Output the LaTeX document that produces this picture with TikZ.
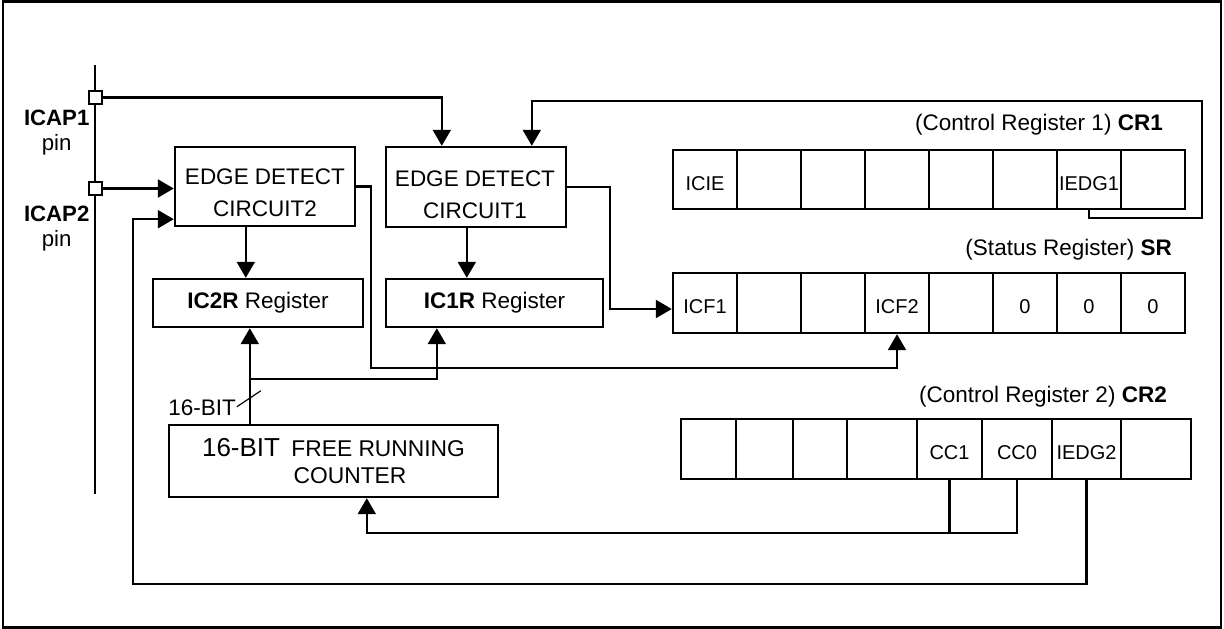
\documentclass[tikz,border=0pt]{standalone}
\usepackage{fontspec}
\setmainfont{Liberation Sans}
\usetikzlibrary{arrows.meta,calc}

\begin{document}
\begin{tikzpicture}[
        x=1pt,
        y=-1pt,
        wire/.style={line width=2.2pt},
        sig/.style={wire, -{Triangle[length=16pt,width=18pt]}},
        blk/.style={draw, line width=2.4pt, inner sep=2pt, align=center},
        cell/.style={draw, line width=2.4pt, minimum width=64, minimum height=60, inner sep=0pt,
            text height=21.8pt, text depth=0pt, font=\fontsize{20}{22}\selectfont},
        pinbox/.style={draw, line width=2pt, fill=white, minimum size=13, inner sep=0pt},
        title/.style={anchor=base east, inner sep=0pt},
        font=\fontsize{22.5}{31.7}\selectfont
    ]
        \useasboundingbox (0,0) rectangle (1224,629);
        \draw[line width=2.2pt] (3,1.5) rectangle (1221,627.5);

        % input pins
        \coordinate (pintop) at (95,65);
        \coordinate (pinbot) at (95,494);
        \draw[wire] (pintop) -- (pinbot);
        \node[pinbox] (pin1) at (95,97.5) {};
        \node[pinbox] (pin2) at (95,188.5) {};
        \node[align=center, font=\fontsize{22.2}{25}\selectfont, inner sep=0pt, anchor=north] (lab1) at (56.7,110) {\textbf{ICAP1}\\pin};
        \node[align=center, font=\fontsize{22.2}{25}\selectfont, inner sep=0pt, anchor=north] (lab2) at (56.7,206) {\textbf{ICAP2}\\pin};

        % blocks
        \node[blk, minimum width=180, minimum height=79] (edge2) at (265,186.5) {};
        \node (edge2t) [align=center] at (265,193) {EDGE DETECT\\CIRCUIT2};
        \node[blk, minimum width=180, minimum height=80] (edge1) at (476,187) {};
        \node (edge1t) [align=center] at (475,195) {EDGE DETECT\\CIRCUIT1};
        \node[blk, minimum width=210, minimum height=48] (ic2r) at (258,303) {\textbf{IC2R} Register};
        \node[blk, minimum width=217, minimum height=48] (ic1r) at (494.5,303) {\textbf{IC1R} Register};
        \node[blk, minimum width=329, minimum height=72, font=\fontsize{22.8}{27}\selectfont] (counter) at (333.5,461)
            {{\fontsize{26}{27}\selectfont 16-BIT}\hspace{5pt} FREE RUNNING\\\hspace*{33pt}COUNTER};

        % registers
        \node[title] (t1) at (1163,130) {(Control Register 1) \textbf{CR1}};
        \node[title] (t2) at (1172,255) {(Status Register) \textbf{SR}};
        \node[title] (t3) at (1167,402) {(Control Register 2) \textbf{CR2}};
        \foreach \i/\t in {1/ICIE,2/,3/,4/,5/,6/,7/IEDG1,8/}
            \node[cell, minimum height=59] (c1-\i) at ({641+64*\i},179.5) {\t};
        \foreach \i/\t in {1/ICF1,2/,3/,4/ICF2,5/,6/0,7/0,8/0}
            \node[cell] (sr-\i) at ({641+64*\i},303) {\t};
        \foreach \i/\xa/\xb/\t in {1/681/736/,2/736/793/,3/793/847/,4/847/917/,5/917/982/CC1,6/982/1052/CC0,7/1052/1121/IEDG2,8/1121/1191/}
            \node[cell, minimum width={\xb-\xa}] (c2-\i) at ({(\xa+\xb)/2},449) {\t};

        % connections
        \draw[sig] (pin1.east) -| ($(edge1.north west)+(57,0)$);
        \draw[sig] (pin2.east) -- (pin2.east -| edge2.west);
        \draw[sig] (c1-7.south) -- ++(0,8) -| ++(113,-117) -| ($(edge1.north west)+(147,0)$);
        \draw[sig] ($(edge1.south west)+(82,0)$) -- ($(ic1r.north west)+(82,0)$);
        \draw[sig] ($(edge2.south west)+(72,0)$) -- ($(ic2r.north west)+(94,0)$);
        \draw[sig] (edge1.east) -- ++(43,0) |- ($(sr-1.west)+(0,6)$);
        \draw[sig] (edge2.east) -- ++(15,0) |- ($(sr-4.south)+(0,34)$) -- (sr-4.south);
        \draw[sig] ($(counter.north west)+(82,0)$) -- ($(ic2r.south west)+(98,0)$);
        \draw[sig] ($(counter.north west)+(82,-45)$) -| ($(ic1r.south west)+(52,0)$);
        \draw[line width=1.2pt] ($(counter.north west)+(69,-17)$) -- ++(24,-16);
        \node[title] (bits) at (236,415) {16-BIT};
        \draw[wire] (c2-5.south) -- ++(0,53) -| (c2-6.south);
        \draw[sig] ($(c2-5.south)+(0,53)$) -| ($(counter.south west)+(199,0)$);
        \draw[sig] (c2-7.south) -- ++(0,104) -| ($(edge2.south west)+(-41,-8)$) -- ($(edge2.south west)+(0,-8)$);
    \end{tikzpicture}
\end{document}
